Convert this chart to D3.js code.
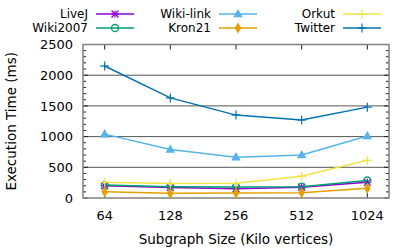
<!DOCTYPE html>
<html>
<head>
<meta charset="utf-8">
<script src="https://cdn.jsdelivr.net/npm/d3@7"></script>
<style>
  body { margin: 0; background: #fff; }
  text { font-family: "DejaVu Sans", sans-serif; fill: #000; }
</style>
</head>
<body>
<div id="chart"></div>
<script>
const sizes = ["64", "128", "256", "512", "1024"];
const liveJ = [200, 170, 150, 175, 255];
const wiki2007 = [210, 185, 180, 185, 285];
const wikiLink = [1040, 790, 665, 700, 1010];
const kron21 = [100, 76, 80, 85, 157];
const orkut = [255, 235, 240, 355, 615];
const twitter = [2150, 1630, 1350, 1270, 1480];
const yTicks = [0, 500, 1000, 1500, 2000, 2500];

const series = [
  {name: "LiveJ", values: liveJ, color: "#9400d3", sym: "star"},
  {name: "Wiki2007", values: wiki2007, color: "#009e73", sym: "circle"},
  {name: "Wiki-link", values: wikiLink, color: "#56b4e9", sym: "triangle"},
  {name: "Kron21", values: kron21, color: "#e69f00", sym: "diamond"},
  {name: "Orkut", values: orkut, color: "#f0e442", sym: "plus"},
  {name: "Twitter", values: twitter, color: "#0072b2", sym: "plus"}
];

const W = 415, H = 249;
const margin = {top: 44.5, right: 26, bottom: 51, left: 83};

const svg = d3.select("#chart").append("svg")
  .attr("width", W).attr("height", H);

const x = d3.scalePoint()
  .domain(sizes)
  .range([margin.left, W - margin.right])
  .padding(0.33);

const y = d3.scaleLinear()
  .domain([0, 2500])
  .range([H - margin.bottom, margin.top]);

const x0 = margin.left, x1 = W - margin.right;
const y0 = H - margin.bottom, y1 = margin.top;

// grid
svg.append("g").selectAll("line")
  .data(yTicks.filter(d => d > 0 && d < 2500))
  .enter().append("line")
  .attr("x1", x0).attr("x2", x1)
  .attr("y1", d => y(d)).attr("y2", d => y(d))
  .style("stroke", "#555").style("stroke-width", 1);

// ticks (mirror)
const ticks = svg.append("g").style("stroke", "#222").style("stroke-width", 1);
d3.range(0, 2501, 100).forEach(v => {
  const len = v % 500 === 0 ? 5 : 3;
  ticks.append("line").attr("x1", x0).attr("x2", x0 + len).attr("y1", y(v)).attr("y2", y(v));
  ticks.append("line").attr("x1", x1).attr("x2", x1 - len).attr("y1", y(v)).attr("y2", y(v));
});
sizes.forEach(s => {
  ticks.append("line").attr("x1", x(s)).attr("x2", x(s)).attr("y1", y0).attr("y2", y0 - 5);
  ticks.append("line").attr("x1", x(s)).attr("x2", x(s)).attr("y1", y1).attr("y2", y1 + 5);
});

// frame
svg.append("rect")
  .attr("x", x0).attr("y", y1)
  .attr("width", x1 - x0).attr("height", y0 - y1)
  .attr("fill", "none").style("stroke", "#808080").style("stroke-width", 1.5);

// tick labels
svg.append("g").selectAll("text")
  .data(yTicks).enter().append("text")
  .attr("x", x0 - 10).attr("y", d => y(d)).attr("dy", "0.36em")
  .attr("text-anchor", "end").style("font-size", "13px")
  .text(d => d);

svg.append("g").selectAll("text")
  .data(sizes).enter().append("text")
  .attr("x", d => x(d)).attr("y", y0 + 22)
  .attr("text-anchor", "middle").style("font-size", "13px")
  .text(d => d);

// axis titles
svg.append("text")
  .attr("transform", `translate(16,${(y0 + y1) / 2}) rotate(-90)`)
  .attr("text-anchor", "middle").style("font-size", "13.5px")
  .text("Execution Time (ms)");
svg.append("text")
  .attr("x", (x0 + x1) / 2).attr("y", y0 + 46)
  .attr("text-anchor", "middle").style("font-size", "13.5px")
  .text("Subgraph Size (Kilo vertices)");

function drawSymbol(g, sym, color, cx, cy) {
  if (sym === "star") {
    const r = 3.5;
    [[-r, 0, r, 0], [0, -r, 0, r], [-r, -r, r, r], [-r, r, r, -r]].forEach(l => {
      g.append("line").attr("x1", cx + l[0]).attr("y1", cy + l[1]).attr("x2", cx + l[2]).attr("y2", cy + l[3])
        .style("stroke", color).style("stroke-width", 1.2);
    });
  } else if (sym === "plus") {
    const r = 4.5;
    g.append("line").attr("x1", cx - r).attr("x2", cx + r).attr("y1", cy).attr("y2", cy)
      .style("stroke", color).style("stroke-width", 1.2);
    g.append("line").attr("x1", cx).attr("x2", cx).attr("y1", cy - r).attr("y2", cy + r)
      .style("stroke", color).style("stroke-width", 1.2);
  } else if (sym === "circle") {
    g.append("circle").attr("cx", cx).attr("cy", cy).attr("r", 3.5)
      .attr("fill", "none").style("stroke", color).style("stroke-width", 1.3);
  } else if (sym === "triangle") {
    g.append("path").attr("d", d3.symbol(d3.symbolTriangle, 40)())
      .attr("transform", `translate(${cx},${cy + 0.5})`).attr("fill", color);
  } else if (sym === "diamond") {
    g.append("path").attr("d", d3.symbol(d3.symbolDiamond, 36)())
      .attr("transform", `translate(${cx},${cy})`).attr("fill", color);
  }
}

const line = d3.line().x((d, i) => x(sizes[i])).y(d => y(d));

series.forEach(s => {
  const g = svg.append("g");
  g.append("path").datum(s.values)
    .attr("d", line).attr("fill", "none")
    .style("stroke", s.color).style("stroke-width", 1.5);
  s.values.forEach((v, i) => drawSymbol(g, s.sym, s.color, x(sizes[i]), y(v)));
});

// legend
const legCols = [88, 211, 335];
const legRows = [14, 28];
series.forEach((s, i) => {
  const col = Math.floor(i / 2), row = i % 2;
  const lx = legCols[col], ly = legRows[row];
  const g = svg.append("g");
  g.append("text").attr("x", lx).attr("y", ly).attr("dy", "0.36em")
    .attr("text-anchor", "end").style("font-size", "12px").text(s.name);
  g.append("line").attr("x1", lx + 8).attr("x2", lx + 46).attr("y1", ly).attr("y2", ly)
    .style("stroke", s.color).style("stroke-width", 1.5);
  drawSymbol(g, s.sym, s.color, lx + 27, ly);
});
</script>
</body>
</html>
